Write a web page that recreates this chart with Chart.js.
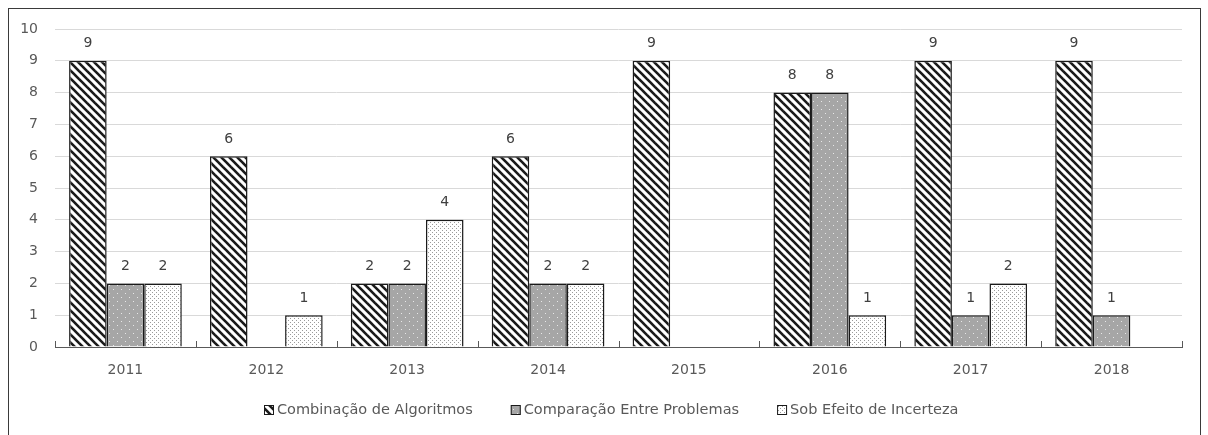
<!DOCTYPE html>
<html>
<head>
<meta charset="utf-8">
<script src="https://cdn.jsdelivr.net/npm/chart.js@4"></script>
<style>
  body { margin: 0; background: #fff; overflow: hidden; }
  #wrap { position: relative; width: 1208px; height: 435px; }
  #frame { position: absolute; left: 8px; top: 8px; width: 1193px; height: 440px; border: 1px solid #3a3a3a; box-sizing: border-box; pointer-events: none; }
</style>
</head>
<body>
<div id="wrap">
  <canvas id="chart" width="1208" height="435"></canvas>
  <div id="frame"></div>
</div>
<script>
// Data
const years = ['2011', '2012', '2013', '2014', '2015', '2016', '2017', '2018'];
const combinacao = [9, 6, 2, 6, 9, 8, 9, 9];
const comparacao = [2, null, 2, 2, null, 8, 1, 1];
const incerteza = [2, 1, 4, 2, null, 1, 2, null];
const seriesNames = ['Combinação de Algoritmos', 'Comparação Entre Problemas', 'Sob Efeito de Incerteza'];
const yTicks = [0, 1, 2, 3, 4, 5, 6, 7, 8, 9, 10];

const FONT = '"DejaVu Sans", sans-serif';
const TEXT = '#595959';

// Fill patterns like the Excel ones
function makePattern(size, draw) {
    const c = document.createElement('canvas');
    c.width = size;
    c.height = size;
    const ctx = c.getContext('2d');
    draw(ctx, size);
    return ctx.createPattern(c, 'repeat');
}

const stripes = makePattern(8, function(ctx, s) {
    ctx.fillStyle = '#fff';
    ctx.fillRect(0, 0, s, s);
    ctx.strokeStyle = '#1a1a1a';
    ctx.lineWidth = 2.6;
    [-s, 0, s].forEach(function(x0) {
        ctx.beginPath();
        ctx.moveTo(x0 - 1, -1);
        ctx.lineTo(x0 + s + 1, s + 1);
        ctx.stroke();
    });
});

const grayDots = makePattern(8, function(ctx, s) {
    ctx.fillStyle = '#a6a6a6';
    ctx.fillRect(0, 0, s, s);
    ctx.fillStyle = '#e8e8e8';
    ctx.fillRect(1, 1, 1, 1);
    ctx.fillRect(5, 5, 1, 1);
});

const whiteDots = makePattern(4, function(ctx, s) {
    ctx.fillStyle = '#fff';
    ctx.fillRect(0, 0, s, s);
    ctx.fillStyle = '#9a9a9a';
    ctx.fillRect(0, 0, 1, 1);
    ctx.fillRect(2, 2, 1, 1);
});

// Value labels above each bar
const valueLabels = {
    id: 'valueLabels',
    afterDatasetsDraw(chart) {
        const ctx = chart.ctx;
        ctx.save();
        ctx.font = '14px ' + FONT;
        ctx.fillStyle = '#404040';
        ctx.textAlign = 'center';
        ctx.textBaseline = 'middle';
        chart.data.datasets.forEach(function(ds, i) {
            chart.getDatasetMeta(i).data.forEach(function(bar, j) {
                const v = ds.data[j];
                if (v === null || v === undefined) return;
                ctx.fillText(String(v), bar.x, bar.y - 17);
            });
        });
        ctx.restore();
    }
};

// Small inside tick marks at category boundaries
const innerTicks = {
    id: 'innerTicks',
    afterDraw(chart) {
        const ctx = chart.ctx;
        const area = chart.chartArea;
        const step = (area.right - area.left) / years.length;
        ctx.save();
        ctx.strokeStyle = '#595959';
        ctx.lineWidth = 1;
        for (let i = 0; i <= years.length; i++) {
            const x = Math.round(area.left + step * i) + 0.5;
            ctx.beginPath();
            ctx.moveTo(x, area.bottom);
            ctx.lineTo(x, area.bottom - 6);
            ctx.stroke();
        }
        ctx.restore();
    }
};

// Excel style legend: small box, short gap, wide spacing between items
const bottomLegend = {
    id: 'bottomLegend',
    afterDraw(chart) {
        const ctx = chart.ctx;
        const y = 410;
        const box = 10, boxGap = 3, itemGap = 38;
        ctx.save();
        ctx.font = '14.5px ' + FONT;
        const widths = chart.data.datasets.map(function(ds) {
            return box + boxGap + ctx.measureText(ds.label).width;
        });
        const total = widths.reduce(function(a, b) { return a + b; }, 0) + itemGap * (widths.length - 1);
        let x = Math.round(611 - total / 2);
        chart.data.datasets.forEach(function(ds, i) {
            ctx.fillStyle = ds.backgroundColor;
            ctx.fillRect(x, y - box / 2, box, box);
            ctx.strokeStyle = '#1a1a1a';
            ctx.lineWidth = 1;
            ctx.strokeRect(x + 0.5, y - box / 2 + 0.5, box - 1, box - 1);
            ctx.fillStyle = TEXT;
            ctx.textAlign = 'left';
            ctx.textBaseline = 'middle';
            ctx.fillText(ds.label, x + box + boxGap, y);
            x += widths[i] + itemGap;
        });
        ctx.restore();
    }
};

const ctx = document.getElementById('chart').getContext('2d');
const chart = new Chart(ctx, {
    type: 'bar',
    data: {
        labels: years,
        datasets: [{
            label: seriesNames[0],
            data: combinacao,
            backgroundColor: stripes,
            borderColor: '#1a1a1a',
            borderWidth: 1.5
        }, {
            label: seriesNames[1],
            data: comparacao,
            backgroundColor: grayDots,
            borderColor: '#1a1a1a',
            borderWidth: 1.5
        }, {
            label: seriesNames[2],
            data: incerteza,
            backgroundColor: whiteDots,
            borderColor: '#1a1a1a',
            borderWidth: 1.5
        }]
    },
    options: {
        responsive: false,
        animation: false,
        layout: { padding: { left: 8, right: 26, top: 29, bottom: 46 } },
        datasets: { bar: { categoryPercentage: 0.8, barPercentage: 1.0 } },
        scales: {
            x: {
                grid: { display: false, drawTicks: false },
                border: { display: true, color: '#595959', width: 1 },
                ticks: { color: TEXT, font: { family: FONT, size: 14 }, padding: 15 },
                afterFit: function(scale) { scale.height = 42; }
            },
            y: {
                min: 0,
                max: 10,
                afterBuildTicks: function(scale) {
                    scale.ticks = yTicks.map(function(v) { return { value: v }; });
                },
                grid: { color: '#d9d9d9', lineWidth: 1, drawTicks: false },
                border: { display: false },
                ticks: { color: TEXT, font: { family: FONT, size: 14 }, padding: 17 },
                afterFit: function(scale) { scale.width = 47; }
            }
        },
        plugins: {
            legend: { display: false },
            tooltip: { enabled: false }
        }
    },
    plugins: [valueLabels, innerTicks, bottomLegend]
});
</script>
</body>
</html>
